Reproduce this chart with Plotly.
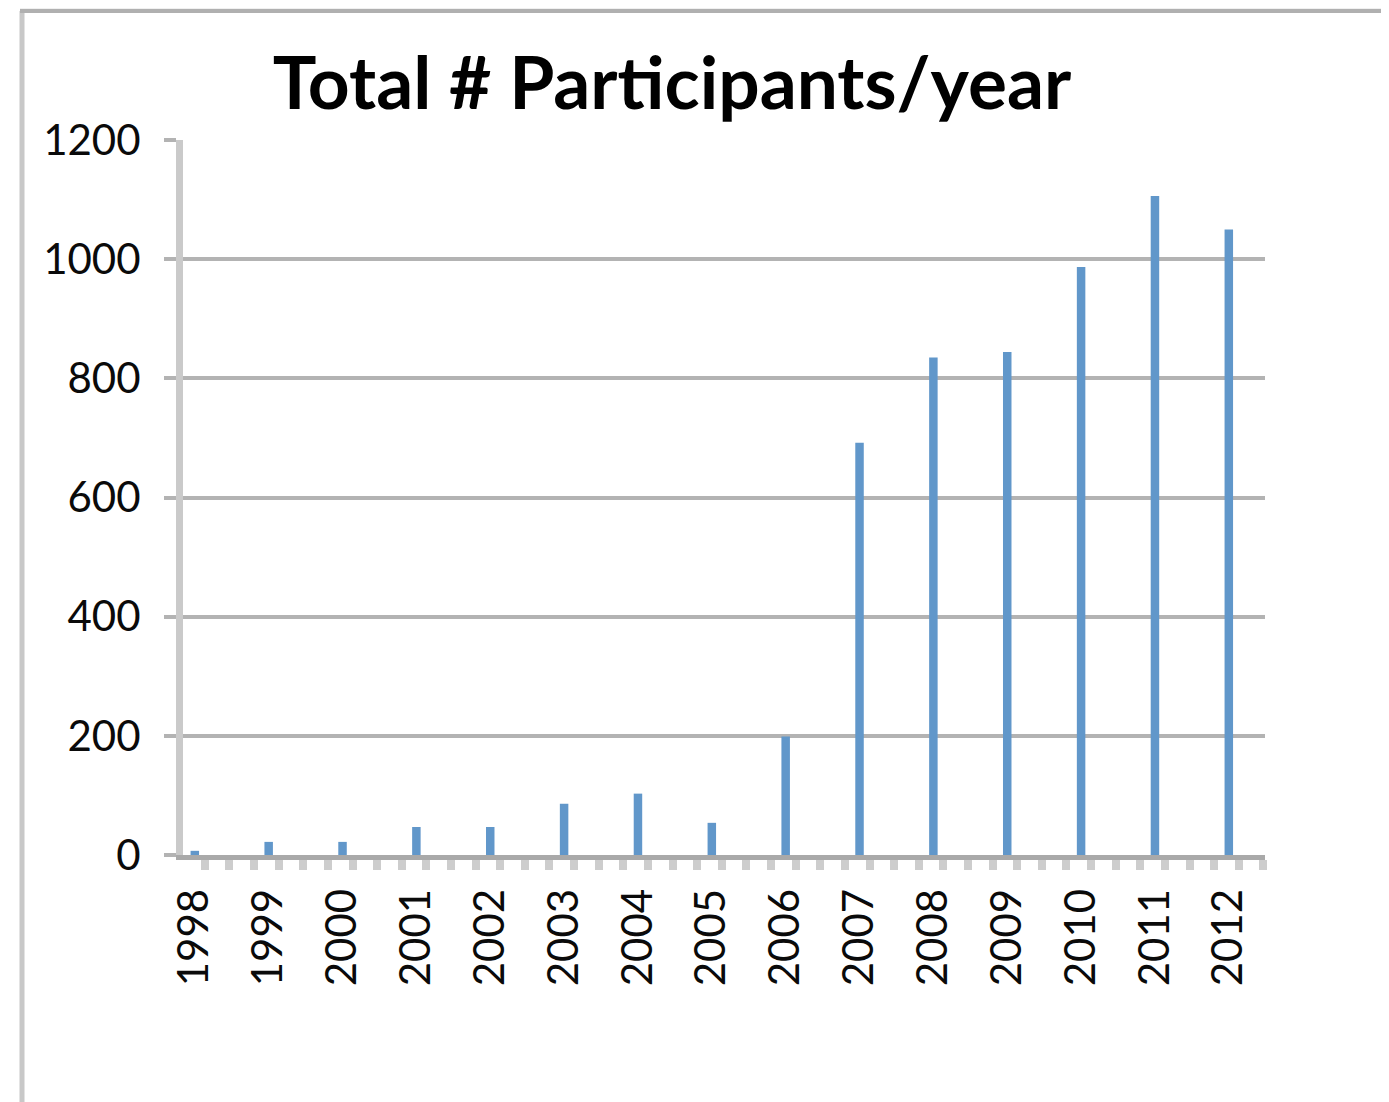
import plotly.graph_objects as go

years = [1998, 1999, 2000, 2001, 2002, 2003, 2004, 2005, 2006, 2007, 2008, 2009, 2010, 2011, 2012]
participants = [7, 22, 22, 47, 47, 86, 103, 54, 199, 692, 835, 844, 987, 1106, 1050]
year_labels = [str(y) for y in years]
y_ticks = [0, 200, 400, 600, 800, 1000, 1200]

OFF = 8  # default page body margin
W, H = 1389 - OFF, 1102 - OFF
L, R, T, B = 183 - OFF, 1265 - OFF, 140 - OFF, 855 - OFF  # plot area pixels in figure


def px_x(p):
    return (p - OFF - L) / (R - L)


def px_y(p):
    return (B - (p - OFF)) / (B - T)


fig = go.Figure()
fig.add_trace(go.Bar(
    x=years, y=participants, width=0.115,
    marker=dict(color="#6197ca", line=dict(width=0)),
    hoverinfo="x+y",
))

fig.update_layout(
    width=W, height=H,
    margin=dict(l=L, r=W - R, t=T, b=H - B, pad=0),
    paper_bgcolor="white", plot_bgcolor="white",
    showlegend=False,
    font=dict(family="Lato, Calibri, Carlito, sans-serif", color="#111111", size=42),
    title=dict(
        text="<b>Total # Participants/year</b>",
        x=(672 - OFF) / W, xanchor="center", xref="container",
        y=1 - (83 - OFF) / H, yanchor="middle", yref="container",
        font=dict(family="Lato, Calibri, sans-serif", size=73, color="#000000"),
    ),
    xaxis=dict(
        type="linear",
        range=[1997.84, 2012.49],
        tickmode="array", tickvals=years, ticktext=year_labels,
        tickangle=-90, ticks="", ticklabelstandoff=12,
        showgrid=False, zeroline=False,
        showline=True, linecolor="#a9a9a9", linewidth=5,
        tickfont=dict(size=42, color="#0a0a0a"),
        minor=dict(tickmode="linear", tick0=1998.135, dtick=1 / 3,
                   ticks="outside", ticklen=10, tickwidth=8, tickcolor="#cdcdcd",
                   showgrid=False),
        fixedrange=True,
    ),
    yaxis=dict(
        range=[0, 1200],
        tickmode="array", tickvals=y_ticks, ticktext=[str(v) for v in y_ticks],
        ticks="outside", ticklen=12, tickwidth=4, tickcolor="#b3b3b3",
        ticklabelstandoff=15,
        showgrid=True, gridcolor="#b3b3b3", gridwidth=4,
        zeroline=False,
        showline=True, linecolor="#cacaca", linewidth=7,
        tickfont=dict(size=42, color="#0a0a0a"),
        fixedrange=True,
    ),
    shapes=[
        # chart frame
        dict(type="line", xref="paper", yref="paper",
             x0=px_x(22), x1=px_x(22), y0=px_y(1200), y1=px_y(11),
             line=dict(color="#c8c8c8", width=5)),
        dict(type="line", xref="paper", yref="paper",
             x0=px_x(20), x1=px_x(1400), y0=px_y(11), y1=px_y(11),
             line=dict(color="#b0b0b0", width=4)),
        dict(type="line", xref="paper", yref="paper",
             x0=px_x(20), x1=px_x(1400), y0=px_y(7), y1=px_y(7),
             line=dict(color="#e2e2e2", width=3)),
        dict(type="line", xref="paper", yref="paper",
             x0=px_x(1385), x1=px_x(1385), y0=px_y(1200), y1=px_y(11),
             line=dict(color="#c8c8c8", width=4)),
    ],
)

fig.write_html("out.html")
